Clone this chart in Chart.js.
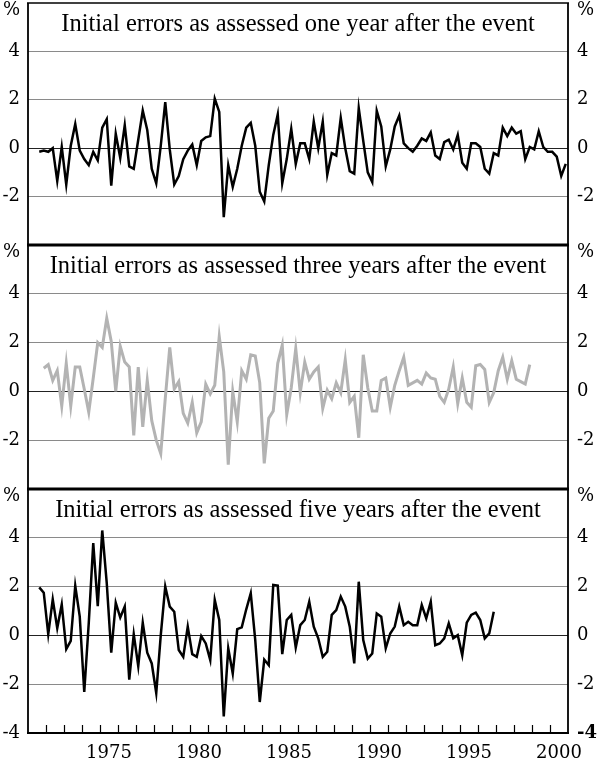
<!DOCTYPE html>
<html>
<head>
<meta charset="utf-8">
<script src="https://cdn.jsdelivr.net/npm/chart.js@4.4.1/dist/chart.umd.min.js"></script>
<style>
  body { margin: 0; background: #fff; }
  #wrap { position: relative; width: 600px; height: 763px; }
  canvas { position: absolute; left: 0; }
</style>
</head>
<body>
<div id="wrap">
  <canvas id="panel1" width="600" height="250" style="top:0px"></canvas>
  <canvas id="panel2" width="600" height="255" style="top:240px"></canvas>
  <canvas id="panel3" width="600" height="279" style="top:484px"></canvas>
</div>
<script>
// quarterly initial errors, per cent
const oneYearStart = [1971, 3];
const oneYear = [
  -0.15, -0.1, -0.15, 0.0, -1.35, 0.05, -1.5, 0.1, 1.0, -0.1,
  -0.45, -0.7, -0.15, -0.5, 0.85, 1.2, -1.55, 0.6, -0.4, 0.95,
  -0.75, -0.85, 0.35, 1.55, 0.75, -0.85, -1.45, 0.1, 1.9, -0.05,
  -1.5, -1.15, -0.45, -0.1, 0.15, -0.7, 0.3, 0.45, 0.5, 2.05,
  1.5, -2.85, -0.7, -1.6, -0.85, 0.1, 0.85, 1.05, 0.1, -1.8,
  -2.2, -0.7, 0.55, 1.4, -1.45, -0.45, 0.8, -0.65, 0.2, 0.2,
  -0.45, 1.1, 0.0, 1.1, -1.1, -0.2, -0.3, 1.25, 0.0, -0.95,
  -1.05, 1.65, 0.3, -1.0, -1.4, 1.55, 0.9, -0.75, -0.05, 0.9,
  1.35, 0.2, 0.0, -0.15, 0.1, 0.4, 0.3, 0.65, -0.3, -0.45,
  0.25, 0.35, -0.05, 0.55, -0.6, -0.85, 0.2, 0.2, 0.05, -0.85,
  -1.05, -0.2, -0.3, 0.85, 0.5, 0.85, 0.6, 0.7, -0.45, 0.05,
  -0.05, 0.7, 0.05, -0.15, -0.15, -0.35, -1.15, -0.65
];

const threeYearsStart = [1971, 4];
const threeYears = [
  0.95, 1.1, 0.45, 0.85, -0.6, 1.15, -0.6, 1.0, 1.0, 0.1,
  -0.85, 0.55, 2.0, 1.8, 3.0, 2.05, 0.0, 1.85, 1.2, 1.0,
  -1.8, 1.0, -1.45, 0.45, -1.2, -2.0, -2.55, -0.3, 1.8, 0.1,
  0.4, -0.9, -1.3, -0.45, -1.7, -1.25, 0.3, -0.1, 0.25, 2.25,
  0.8, -3.0, 0.0, -1.25, 0.85, 0.5, 1.5, 1.45, 0.35, -2.95,
  -1.1, -0.8, 1.15, 1.9, -0.95, 0.15, 1.75, -0.05, 1.2, 0.5,
  0.8, 1.0, -0.7, 0.05, -0.3, 0.35, -0.05, 1.3, -0.45, -0.2,
  -1.9, 1.5, 0.15, -0.8, -0.8, 0.45, 0.55, -0.65, 0.25, 0.85,
  1.4, 0.25, 0.35, 0.45, 0.3, 0.75, 0.55, 0.5, -0.2, -0.45,
  0.1, 1.0, -0.5, 0.55, -0.45, -0.65, 1.05, 1.1, 0.9, -0.45,
  -0.05, 0.85, 1.4, 0.5, 1.25, 0.5, 0.4, 0.3, 1.1
];

const fiveYearsStart = [1971, 3];
const fiveYears = [
  1.97, 1.75, 0.05, 1.48, 0.3, 1.27, -0.56, -0.22, 2.03, 0.77,
  -2.32, 0.5, 3.78, 1.2, 4.3, 2.14, -0.71, 1.34, 0.73, 1.18,
  -1.81, 0.05, -1.26, 0.52, -0.71, -1.15, -2.36, 0.0, 2.0, 1.18,
  0.97, -0.6, -0.88, 0.36, -0.77, -0.88, -0.03, -0.33, -1.01, 1.45,
  0.63, -3.32, -0.53, -1.56, 0.26, 0.33, 1.07, 1.73, -0.19, -2.73,
  -0.99, -1.22, 2.07, 2.04, -0.77, 0.63, 0.84, -0.5, 0.42, 0.63,
  1.38, 0.36, -0.12, -0.88, -0.67, 0.84, 1.04, 1.59, 1.18, 0.36,
  -1.15, 2.2, -0.19, -0.95, -0.74, 0.9, 0.77, -0.53, 0.08, 0.36,
  1.18, 0.42, 0.56, 0.42, 0.42, 1.25, 0.7, 1.38, -0.4, -0.33,
  -0.12, 0.49, -0.12, 0.01, -0.81, 0.52, 0.84, 0.93, 0.63, -0.12,
  0.08, 0.97
];

const yTickValues = [-4, -2, 0, 2, 4];
const yearLabels = [1975, 1980, 1985, 1990, 1995, 2000];
const titles = [
  "Initial errors as assessed one year after the event",
  "Initial errors as assessed three years after the event",
  "Initial errors as assessed five years after the event"
];

const X_MIN = 1971, X_MAX = 2001;
const Y_MIN = -4, Y_MAX = 6;
const PCT_AT = 5.7; // where the "%" unit sits on the axis
const SERIF = "'Liberation Serif', 'Times New Roman', serif";
const TICK_SERIF = "'DejaVu Serif', serif";

function toPoints(start, values) {
  // quarter plotted at its middle
  return values.map((v, i) => ({ x: start[0] + (start[1] - 0.5 + i) / 4, y: v }));
}

const panelDecor = {
  id: "panelDecor",
  afterDatasetsDraw(chart, args, opts) {
    const { ctx, chartArea: a } = chart;
    ctx.save();
    ctx.strokeStyle = "#000";
    ctx.lineWidth = 1.8;
    ctx.beginPath();
    ctx.moveTo(a.left, a.top);
    ctx.lineTo(a.left, a.bottom);
    ctx.moveTo(a.right, a.top);
    ctx.lineTo(a.right, a.bottom);
    ctx.stroke();

    ctx.lineWidth = opts.topWidth;
    ctx.beginPath();
    ctx.moveTo(a.left - 1, a.top);
    ctx.lineTo(a.right + 1, a.top);
    ctx.stroke();

    if (opts.bottomWidth) {
      ctx.lineWidth = opts.bottomWidth;
      ctx.beginPath();
      ctx.moveTo(a.left - 1, a.bottom);
      ctx.lineTo(a.right + 1, a.bottom);
      ctx.stroke();
    }

    if (opts.yearTicks) {
      const xs = chart.scales.x;
      ctx.lineWidth = 1.2;
      ctx.beginPath();
      for (let yr = X_MIN + 1; yr < X_MAX; yr++) {
        const px = Math.round(xs.getPixelForValue(yr)) + 0.5;
        ctx.moveTo(px, a.bottom);
        ctx.lineTo(px, a.bottom - 8);
      }
      ctx.stroke();
    }

    ctx.fillStyle = "#000";
    ctx.font = "24.5px " + SERIF;
    ctx.textAlign = "center";
    ctx.textBaseline = "alphabetic";
    ctx.fillText(opts.title, (a.left + a.right) / 2, a.top + 27.5);
    ctx.restore();
  }
};

function yAxis(position, showBottom) {
  return {
    type: "linear",
    position: position,
    min: Y_MIN,
    max: Y_MAX,
    afterBuildTicks: (s) => {
      s.ticks = yTickValues.concat([PCT_AT]).map((v) => ({ value: v }));
    },
    afterFit: (s) => {
      s.width = position === "left" ? 28 : 32;
      s.paddingTop = 0;
      s.paddingBottom = 0;
    },
    border: { display: false },
    grid: {
      display: position === "left",
      drawTicks: false,
      lineWidth: 1,
      color: (c) => {
        const v = c.tick ? c.tick.value : null;
        if (v === 0) return "#222";
        if (v === -4 || v > 4) return "rgba(0,0,0,0)";
        return "#8a8a8a";
      }
    },
    ticks: {
      autoSkip: false,
      padding: position === "left" ? 8 : 9,
      color: "#000",
      font: (c) => ({
        family: TICK_SERIF,
        size: 18,
        weight: position === "right" && c.tick && c.tick.value === -4 ? "bold" : "normal"
      }),
      callback: (v) => (v > 4 ? "%" : v === -4 ? (showBottom ? "-4" : "") : String(v))
    }
  };
}

function xAxis(show) {
  return {
    type: "linear",
    display: show,
    min: X_MIN,
    max: X_MAX,
    afterBuildTicks: (s) => {
      s.ticks = yearLabels.map((y) => ({ value: y + 0.5 }));
    },
    afterFit: (s) => {
      if (show) s.height = 30;
      s.paddingLeft = 0;
      s.paddingRight = 0;
    },
    border: { display: false },
    grid: { display: false, drawTicks: false },
    ticks: {
      autoSkip: false,
      maxRotation: 0,
      padding: 10,
      color: "#000",
      font: { family: TICK_SERIF, size: 18 },
      callback: (v) => String(Math.floor(v))
    }
  };
}

function renderPanel(canvasId, start, values, color, width, title, opts) {
  const ctx = document.getElementById(canvasId).getContext("2d");
  new Chart(ctx, {
    type: "line",
    data: {
      datasets: [
        {
          data: toPoints(start, values),
          borderColor: color,
          borderWidth: width,
          pointRadius: 0,
          tension: 0,
          fill: false,
          yAxisID: "y"
        }
      ]
    },
    options: {
      responsive: false,
      animation: false,
      layout: { padding: opts.padding },
      scales: {
        x: xAxis(opts.showX),
        y: yAxis("left", opts.showX),
        y2: yAxis("right", opts.showX)
      },
      plugins: {
        legend: { display: false },
        tooltip: { enabled: false },
        panelDecor: {
          title: title,
          topWidth: opts.topWidth,
          bottomWidth: opts.bottomWidth,
          yearTicks: opts.showX
        }
      }
    },
    plugins: [panelDecor]
  });
}

renderPanel("panel1", oneYearStart, oneYear, "#000", 2.5, titles[0], {
  padding: { top: 3, bottom: 5, left: 0, right: 0 },
  showX: false, topWidth: 1.6, bottomWidth: 0
});
renderPanel("panel2", threeYearsStart, threeYears, "#b3b3b3", 3, titles[1], {
  padding: { top: 5, bottom: 6, left: 0, right: 0 },
  showX: false, topWidth: 3, bottomWidth: 0
});
renderPanel("panel3", fiveYearsStart, fiveYears, "#000", 2.5, titles[2], {
  padding: { top: 5, bottom: 0, left: 0, right: 0 },
  showX: true, topWidth: 3, bottomWidth: 2
});
</script>
</body>
</html>
